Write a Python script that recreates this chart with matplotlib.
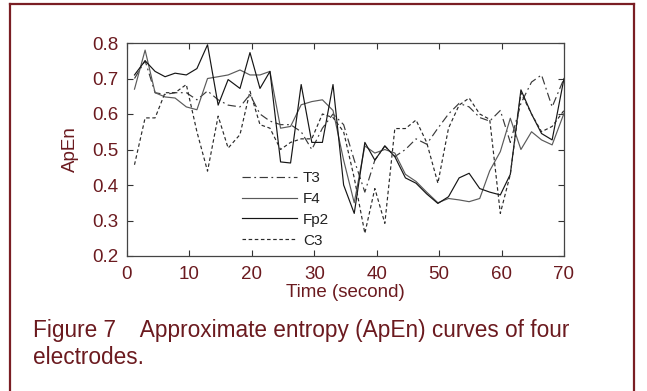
import matplotlib
matplotlib.use("Agg")
import matplotlib.pyplot as plt
from matplotlib.lines import Line2D

plt.rcParams['font.family'] = ['Liberation Sans', 'DejaVu Sans']

time = [1.2, 2.9, 4.5, 6.1, 7.7, 9.5, 11.2, 12.9, 14.6, 16.2, 18.1, 19.7, 21.3, 22.9,
        24.6, 26.2, 27.9, 29.6, 31.3, 33.0, 34.7, 36.4, 38.1, 39.7, 41.3, 42.9, 44.6,
        46.3, 48.0, 49.8, 51.5, 53.2, 54.8, 56.5, 58.1, 59.8, 61.4, 63.1, 64.8, 66.4,
        68.1, 70.0]

t3 = [0.70, 0.75, 0.66, 0.655, 0.66, 0.66, 0.64, 0.665, 0.64, 0.625, 0.62, 0.655, 0.60, 0.58,
      0.57, 0.57, 0.55, 0.50, 0.56, 0.60, 0.57, 0.47, 0.38, 0.47, 0.51, 0.48, 0.50,
      0.53, 0.515, 0.56, 0.60, 0.63, 0.62, 0.59, 0.58, 0.61, 0.52, 0.63, 0.69, 0.71,
      0.62, 0.70]

f4 = [0.67, 0.78, 0.66, 0.648, 0.645, 0.62, 0.612, 0.70, 0.705, 0.71, 0.724, 0.71, 0.71, 0.72,
      0.56, 0.565, 0.626, 0.635, 0.64, 0.61, 0.47, 0.35, 0.51, 0.49, 0.50, 0.49, 0.43,
      0.41, 0.38, 0.35, 0.362, 0.358, 0.353, 0.362, 0.44, 0.494, 0.588, 0.50, 0.55, 0.527,
      0.513, 0.602]

fp2 = [0.71, 0.75, 0.72, 0.705, 0.715, 0.71, 0.728, 0.795, 0.625, 0.697, 0.672, 0.773, 0.672, 0.72,
       0.465, 0.462, 0.683, 0.52, 0.52, 0.683, 0.40, 0.32, 0.52, 0.47, 0.51, 0.48, 0.42,
       0.405, 0.375, 0.348, 0.367, 0.42, 0.433, 0.39, 0.38, 0.372, 0.43, 0.668, 0.60, 0.545,
       0.527, 0.70]

c3 = [0.457, 0.589, 0.589, 0.66, 0.66, 0.683, 0.55, 0.439, 0.594, 0.504, 0.542, 0.664, 0.57, 0.56,
      0.50, 0.52, 0.53, 0.53, 0.60, 0.59, 0.55, 0.42, 0.264, 0.39, 0.292, 0.559, 0.559,
      0.583, 0.52, 0.405, 0.56, 0.625, 0.645, 0.60, 0.585, 0.32, 0.43, 0.66, 0.60, 0.55,
      0.565, 0.61]

x_ticks = [0, 10, 20, 30, 40, 50, 60, 70]
y_ticks = [0.2, 0.3, 0.4, 0.5, 0.6, 0.7, 0.8]
y_ticklabels = ['0.2', '0.3', '0.4', '0.5', '0.6', '0.7', '0.8']

TXT = '#6b1a1f'
W, H = 647, 391
fig = plt.figure(figsize=(W / 100, H / 100), dpi=100)
fig.patch.set_facecolor('white')

# page frame
for xs, ys in [([10 / W, 10 / W], [0, 1 - 4 / H]),
               ([634 / W, 634 / W], [0, 1 - 4 / H]),
               ([10 / W, 634 / W], [1 - 4 / H, 1 - 4 / H])]:
    fig.add_artist(Line2D(xs, ys, color='#7a1e24', lw=1.6, transform=fig.transFigure))

ax = fig.add_axes([127 / W, 1 - 256 / H, (564 - 127) / W, (256 - 43) / H])
ax.plot(time, t3, color='#3a3a3a', lw=0.85, ls=(0, (7, 3, 1.5, 3)), label='T3')
ax.plot(time, f4, color='#5a5a5a', lw=0.85, ls='-', label='F4')
ax.plot(time, fp2, color='#151515', lw=0.85, ls='-', label='Fp2')
ax.plot(time, c3, color='#2a2a2a', lw=0.85, ls=(0, (3, 2.2)), label='C3')

ax.set_xlim(0, 70)
ax.set_ylim(0.2, 0.8)
ax.set_xticks(x_ticks)
ax.set_yticks(y_ticks)
ax.set_yticklabels(y_ticklabels)
ax.tick_params(direction='in', top=True, right=True, length=4, width=0.8,
               labelsize=13.5, labelcolor=TXT, color='#333333')
ax.tick_params(axis='x', pad=7)
ax.tick_params(axis='y', pad=6)
for s in ax.spines.values():
    s.set_color('#444444')
    s.set_linewidth(0.9)

ax.set_xlabel('Time (second)', fontsize=13.5, color=TXT, labelpad=1)
ax.set_ylabel('ApEn', fontsize=13.5, color=TXT, labelpad=10)

leg = ax.legend(loc='upper left', bbox_to_anchor=(0.245, 0.435), frameon=False,
                fontsize=11, handlelength=3.6, handletextpad=0.4, labelspacing=0.45,
                borderpad=0, labelcolor='#222222')

fig.text(33 / W, 1 - 330 / H, 'Figure 7    Approximate entropy (ApEn) curves of four',
         fontsize=16.3, color=TXT, va='center', ha='left')
fig.text(33 / W, 1 - 357 / H, 'electrodes.', fontsize=16.3, color=TXT, va='center', ha='left')

fig.savefig('out.png', dpi=100, facecolor='white')
